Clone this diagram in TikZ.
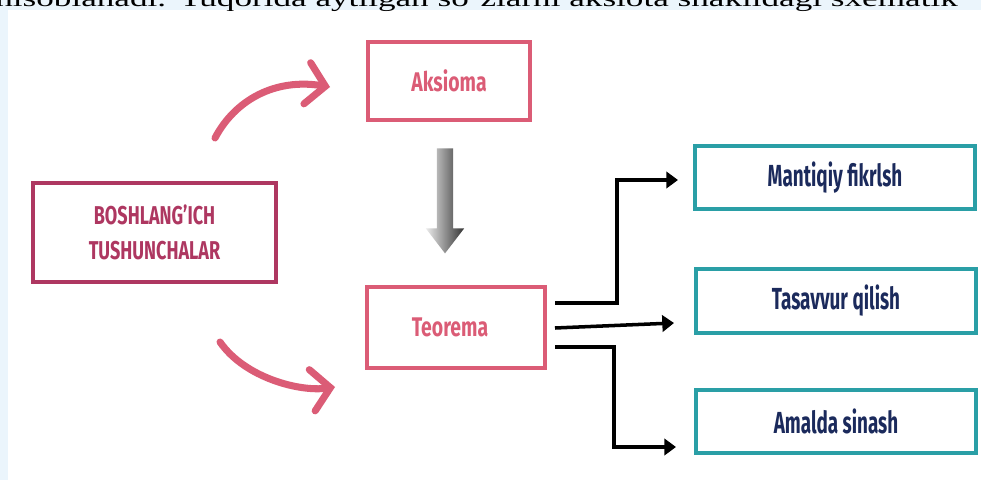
\documentclass[tikz,border=0pt]{standalone}
\usepackage{fontspec}
\setmainfont{Liberation Serif}
\setsansfont{Fira Sans}[FakeStretch=0.72]
\newfontfamily\startfont{Fira Sans}[FakeStretch=0.7]
\newfontfamily\rosefont{Fira Sans}[FakeStretch=0.72]
\newfontfamily\tealfont{Fira Sans}[FakeStretch=0.62]
\usetikzlibrary{arrows.meta,positioning,calc,shapes.arrows}
\definecolor{bgblue}{HTML}{EBF5FC}
\definecolor{wine}{HTML}{AE3761}
\definecolor{rose}{HTML}{DB5C76}
\definecolor{teal2}{HTML}{2A9FA6}
\definecolor{navy}{HTML}{1B2A5C}

\begin{document}
\begin{tikzpicture}[x=0.03cm,y=-0.03cm,
  box/.style={draw, line width=3.4pt, inner sep=0pt, align=center},
  startbox/.style={box, draw=wine, text=wine, font=\startfont\bfseries\fontsize{22}{30}\selectfont},
  rosebox/.style={box, draw=rose, text=rose, font=\rosefont\bfseries\fontsize{23}{24}\selectfont},
  tealbox/.style={box, draw=teal2, text=navy, minimum width=8.4cm, minimum height=1.9cm, font=\tealfont\bfseries\fontsize{26}{28}\selectfont},
  curvy/.style={draw=rose, line width=6pt, line cap=round, -{Straight Barb[length=0.55cm,width=1.25cm,line cap=round]}},
  conn/.style={draw=black, line width=3pt, -{Triangle[length=10pt,width=14pt]}},
  downarrow/.style={single arrow, draw=none, rotate=-90, inner xsep=0pt, inner ysep=0.24cm, minimum height=3.15cm, single arrow head extend=0.33cm, single arrow tip angle=75, left color=gray!15, right color=black!80}]
\useasboundingbox (0,0) rectangle (981,480);
\fill[bgblue] (0,0) rectangle (981,480);
\fill[white] (8,10) rectangle (981,480);
\begin{scope}
\clip (0,0) rectangle (981,480);
\node[anchor=base west, inner sep=0pt, xscale=1.5, font=\fontsize{20}{20}\selectfont] (head) at (-5,7) {hisoblanadi. Yuqorida aytilgan so‘zlarni aksiota shaklidagi sxematik};
\end{scope}

\node[startbox, minimum width=7.29cm, minimum height=2.97cm] (bosh) at (154.5,232.5) {BOSHLANG’ICH\\TUSHUNCHALAR};
\node[rosebox, minimum width=4.86cm, minimum height=2.34cm] (aks) at (449,81) {Aksioma};
\node[rosebox, minimum width=5.34cm, minimum height=2.43cm] (teo) at (456,327.5) {Teorema\hspace*{0.36cm}};
\node[tealbox] (mant) at (835,177.5) {Mantiqiy fikrlsh};
\node[tealbox] (tas) at (836,301) {Tasavvur qilish};
\node[tealbox] (ama) at (836,421.5) {Amalda sinash};

\node[downarrow] (down) at (445,195.5) {};

\draw[curvy] ($(bosh.north)+(60.5,-43)$) .. controls (235,100) and (275,78) .. ($(aks.west)+(-36,6)$);
\draw[curvy] ($(bosh.south)+(65.5,58)$) .. controls (245,378) and (300,392) .. ($(teo.west)+(-30,59.5)$);

\draw[conn] ($(teo.east)+(8,-24.5)$) -- ++(62,0) |- ($(mant.west)+(-15,2.5)$);
\draw[conn] ($(teo.east)+(8,0.5)$) -- ($(tas.west)+(-20,22)$);
\draw[conn] ($(teo.east)+(8,19.5)$) -- ++(59,0) |- ($(ama.west)+(-18,25.5)$);
\end{tikzpicture}
\end{document}
